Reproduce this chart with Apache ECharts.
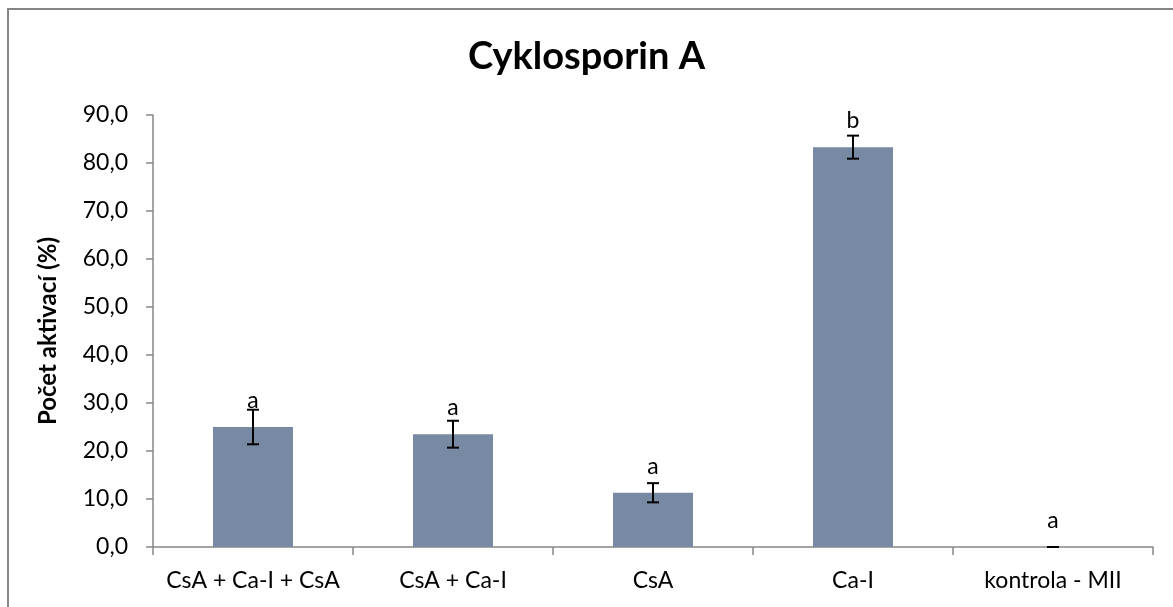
<!DOCTYPE html>
<html>
<head>
<meta charset="utf-8">
<script src="https://cdn.jsdelivr.net/npm/echarts@6/dist/echarts.min.js"></script>
<style>
  html, body { margin: 0; padding: 0; background: #fff; }
  #chart { width: 1173px; height: 607px; }
</style>
</head>
<body>
<div id="chart"></div>
<script>
// Activation counts (%) per treatment group with standard error and significance letters
const categories = ['CsA + Ca-I + CsA', 'CsA + Ca-I', 'CsA', 'Ca-I', 'kontrola - MII'];
const values = [25.0, 23.5, 11.3, 83.3, 0.0];
const errors = [3.6, 2.8, 2.0, 2.4, 0.0];
const letters = ['a', 'a', 'a', 'b', 'a'];
const yTicks = { min: 0, max: 90, interval: 10 };

const FONT = 'Lato, "Open Sans", sans-serif';
const AXIS_GREY = '#868686';

const chart = echarts.init(document.getElementById('chart'), null, { renderer: 'canvas' });

const errorData = categories.map((c, i) => [i, values[i], errors[i]]);

chart.setOption({
  backgroundColor: '#ffffff',
  animation: false,
  title: {
    text: 'Cyklosporin A',
    left: 'center',
    top: 33,
    textStyle: { fontFamily: FONT, fontSize: 38, fontWeight: 'bold', color: '#000' }
  },
  graphic: [{
    type: 'rect',
    shape: { x: 8, y: 9, width: 1400, height: 800 },
    style: { fill: 'none', stroke: AXIS_GREY, lineWidth: 2 },
    silent: true
  }],
  grid: { left: 153, right: 20, top: 115, bottom: 60 },
  xAxis: {
    type: 'category',
    data: categories,
    axisLine: { lineStyle: { color: AXIS_GREY, width: 1.5 } },
    axisTick: { show: true, length: 8, alignWithLabel: false, lineStyle: { color: AXIS_GREY, width: 1.5 } },
    axisLabel: { margin: 22, color: '#000', fontFamily: FONT, fontSize: 23, interval: 0 }
  },
  yAxis: {
    type: 'value',
    min: yTicks.min,
    max: yTicks.max,
    interval: yTicks.interval,
    name: 'Počet aktivací (%)',
    nameLocation: 'middle',
    nameGap: 93,
    nameTextStyle: { fontFamily: FONT, fontSize: 24, fontWeight: 'bold', color: '#000' },
    axisLine: { show: true, lineStyle: { color: AXIS_GREY, width: 1.5 } },
    axisTick: { show: true, length: 7, lineStyle: { color: AXIS_GREY, width: 1.5 } },
    splitLine: { show: false },
    axisLabel: {
      margin: 25, color: '#000', fontFamily: FONT, fontSize: 23,
      formatter: v => v.toFixed(1).replace('.', ',')
    }
  },
  series: [
    {
      type: 'bar',
      data: values,
      barWidth: '40%',
      itemStyle: { color: '#788AA3' },
      label: {
        show: true,
        position: 'top',
        distance: 15,
        color: '#000',
        fontFamily: FONT,
        fontSize: 23,
        formatter: p => letters[p.dataIndex]
      },
      z: 2
    },
    {
      type: 'custom',
      data: errorData,
      z: 3,
      renderItem: (params, api) => {
        const x = api.value(0);
        const v = api.value(1);
        const e = api.value(2);
        const hi = api.coord([x, v + e]);
        const lo = api.coord([x, v - e]);
        const half = 6;
        const style = { stroke: '#000', lineWidth: 2 };
        return {
          type: 'group',
          children: [
            { type: 'line', shape: { x1: hi[0], y1: hi[1], x2: lo[0], y2: lo[1] }, style },
            { type: 'line', shape: { x1: hi[0] - half, y1: hi[1], x2: hi[0] + half, y2: hi[1] }, style },
            { type: 'line', shape: { x1: lo[0] - half, y1: lo[1], x2: lo[0] + half, y2: lo[1] }, style }
          ]
        };
      }
    }
  ]
});
</script>
</body>
</html>
